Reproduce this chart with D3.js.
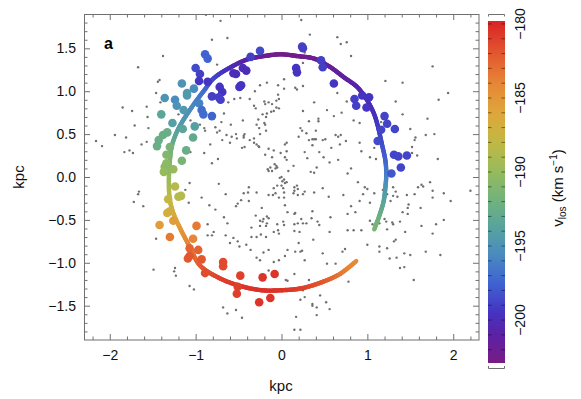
<!DOCTYPE html>
<html>
<head>
<meta charset="utf-8">
<script src="https://cdn.jsdelivr.net/npm/d3@7"></script>
<style>
  body { margin: 0; background: #fff; }
  svg { display: block; font-family: "Liberation Sans", Arial, sans-serif; }
  .tick text { font-size: 14px; fill: #111; }
</style>
</head>
<body>
<div id="chart"></div>
<script>
// field stars (grey), kpc
var fieldStars = [
  [-0.81,1.60],[-1.38,1.41],[-1.67,1.28],[-1.42,1.13],[-1.44,1.11],[-1.46,0.98],[-1.41,0.87],[-1.57,0.82],[-1.85,0.81],[-1.74,0.77],[-1.56,0.70],[-1.20,0.73],[-1.06,0.66],
  [-1.71,0.60],[-1.55,0.57],[-2.16,0.42],[-2.09,0.36],[-1.94,0.49],[-1.81,0.46],[-1.63,0.38],[-1.57,0.41],[-1.77,0.31],[-1.83,0.29],[-1.73,0.28],[-1.07,-0.07],[-1.12,-0.15],[-1.66,-0.17],[-1.67,-0.20],[-1.72,-0.29],[-1.61,-0.34],[-1.08,-0.30],[-0.93,-0.24],[-0.84,-0.33],[-0.90,0.57],[-0.89,0.54],[-1.06,0.29],[-0.90,0.28],[-0.81,0.16],[-0.83,0.38],[-0.95,0.61],[-0.79,-0.64],[-0.86,-0.55],
  [-1.46,-0.72],[-1.49,-1.08],[-1.24,-1.06],[-1.25,-1.10],[-1.23,-1.15],[-1.07,-1.27],[-1.02,-1.31],[-0.86,-0.68],[-0.81,-0.68],
  [-0.71,1.82],[0.23,1.83],[-0.63,1.62],[0.33,1.66],[0.65,1.63],[0.69,1.55],[-0.75,1.31],[0.25,1.33],[0.27,1.45],[0.03,1.14],[-0.17,1.10],[-0.25,1.07],[-0.04,1.07],[0.03,1.03],[0.16,1.04],[0.18,1.02],[0.25,1.06],[-0.31,1.00],[-0.04,0.96],[0.65,0.98],[-0.37,0.91],[-0.03,0.91],[-0.06,0.89],[-0.48,0.92],[-0.55,0.91],[-0.62,0.87],[-0.20,0.88],[-0.15,0.87],[-0.19,0.85],[-0.11,0.85],[-0.32,0.83],[-0.30,0.80],[-0.06,0.81],[-0.03,0.80],[-0.09,0.77],[-0.12,0.76],[-0.22,0.73],[-0.17,0.74],[-0.18,0.70],[-0.27,0.67],[-0.67,0.74],[0.38,0.87],[0.25,0.77],[0.53,0.78],[0.70,0.75],[0.43,0.68],[0.43,0.65],[0.61,0.71],[-0.45,0.66],[-0.20,0.63],[-0.70,0.64],[0.32,0.65],
  [0.76,1.57],[0.81,1.41],[1.76,1.29],[1.21,1.12],[1.41,1.10],[1.94,0.98],[1.83,0.90],[1.33,0.88],[0.76,0.88],[1.41,0.73],[1.70,0.68],[0.84,0.66],[0.91,0.63],[1.16,0.64],
  [-0.77,0.58],[-0.72,0.54],[-0.75,0.52],[-0.59,0.61],[-0.64,0.49],[-0.58,0.47],[-0.53,0.50],[-0.52,0.45],[-0.69,0.43],[-0.60,0.40],[-0.44,0.48],[-0.43,0.50],[-0.44,0.46],[-0.37,0.43],[-0.32,0.45],[-0.32,0.40],[-0.29,0.61],[-0.26,0.57],[-0.19,0.61],[-0.18,0.54],[-0.25,0.50],[-0.46,0.34],[-0.43,0.35],[-0.29,0.38],[-0.26,0.35],[-0.27,0.36],[-0.15,0.33],[-0.09,0.31],[-0.19,0.26],[-0.11,0.23],[-0.01,0.28],[0.04,0.38],[0.06,0.40],[0.06,0.30],[0.04,0.23],[0.06,0.20],[-0.74,0.21],[-0.08,0.15],[-0.06,0.13],[-0.07,0.10],[-0.05,0.11],[-0.13,0.11],[-0.16,0.09],[-0.15,0.07],[-0.11,0.07],[0.14,0.13],[0.08,0.07],[0.22,0.57],[0.24,0.54],[0.20,0.47],[0.29,0.51],[0.40,0.54],[0.40,0.44],[0.32,0.43],[0.36,0.44],[0.38,0.44],[0.36,0.37],[0.48,0.43],[0.51,0.44],[0.44,0.29],[0.27,0.29],[0.30,0.22],[0.49,0.23],[0.58,0.34],[0.68,0.38],[0.63,0.49],[0.66,0.47],[0.69,0.49],[0.56,0.17],[0.66,0.20],[0.41,0.11],[0.34,0.06],[0.38,0.05],
  [-0.73,-0.08],[-0.65,-0.20],[-0.44,-0.19],[-0.39,-0.18],[-0.38,-0.12],[-0.29,-0.18],[-0.47,-0.27],[-0.38,-0.28],[-0.51,-0.31],[-0.53,-0.34],[-0.15,-0.21],[-0.10,-0.21],[-0.07,-0.19],[-0.09,-0.13],[-0.05,-0.10],[0.00,-0.10],[0.02,-0.13],[-0.02,-0.01],[0.00,0.00],[0.01,-0.05],[0.04,-0.07],[0.06,-0.06],[0.03,-0.03],[0.03,-0.18],[-0.03,-0.24],[0.03,-0.24],[0.15,-0.12],[0.18,-0.10],[0.19,-0.14],[0.15,-0.16],[0.14,-0.19],[0.19,-0.21],[0.25,-0.20],[0.27,-0.17],[0.38,-0.18],[0.48,-0.13],[0.55,-0.23],[0.72,-0.21],[0.04,-0.33],[-0.23,-0.36],[0.07,-0.41],[0.15,-0.43],[0.16,-0.42],[-0.30,-0.45],[-0.25,-0.51],[-0.22,-0.52],[-0.17,-0.46],[-0.15,-0.48],[-0.21,-0.49],[-0.17,-0.54],[-0.18,-0.57],[-0.25,-0.57],[-0.35,-0.59],[-0.05,-0.55],[0.02,-0.52],[0.03,-0.56],[-0.09,-0.64],[-0.04,-0.62],[-0.67,-0.47],[-0.63,-0.54],[-0.77,-0.38],[0.23,-0.49],[0.25,-0.54],[0.19,-0.54],[0.15,-0.55],[0.15,-0.63],[0.21,-0.64],[0.29,-0.54],[0.35,-0.48],[0.36,-0.40],[0.42,-0.52],[0.44,-0.56],[0.57,-0.47],[0.56,-0.64],
  [0.75,0.42],[0.91,0.40],[0.93,0.30],[1.03,0.23],[1.10,0.21],[1.08,0.34],[1.50,0.56],[1.56,0.46],[1.55,0.43],[1.68,0.49],[1.78,0.50],[1.52,0.35],[1.52,0.28],[1.58,0.25],[1.82,0.21],[0.81,0.10],[0.77,0.04],[0.89,-0.06],[0.97,-0.12],[1.00,-0.14],[0.95,-0.20],[1.08,-0.19],[1.18,-0.15],[1.23,-0.20],[0.91,-0.28],[1.03,-0.30],[0.81,-0.34],[0.86,-0.41],[0.77,-0.43],[1.30,-0.12],[1.33,-0.17],[1.35,-0.23],[1.30,-0.22],[1.27,-0.28],[1.46,-0.21],[1.55,-0.20],[1.59,-0.12],[1.65,-0.11],[1.63,-0.09],[1.73,-0.06],[1.76,-0.16],[1.89,-0.19],[1.76,-0.24],[2.20,-0.16],[1.97,-0.28],[1.48,-0.32],[1.47,-0.36],[1.62,-0.36],[1.41,-0.41],[1.47,-0.43],[1.20,-0.49],[1.22,-0.52],[1.14,-0.54],[1.06,-0.55],[1.03,-0.51],[1.29,-0.53],[1.30,-0.55],[1.38,-0.52],[1.63,-0.57],[1.80,-0.55],[1.89,-0.50],[1.23,-0.61],[1.44,-0.64],[1.76,-0.66],[0.77,-0.62],[0.84,-0.62],[0.93,-0.62],
  [-0.65,-0.68],[-0.56,-0.71],[-0.60,-0.77],[-0.51,-0.75],[-0.49,-0.81],[-0.41,-0.79],[-0.35,-0.70],[-0.29,-0.70],[-0.24,-0.67],[-0.18,-0.70],[-0.03,-0.66],[-0.36,-0.85],[-0.29,-0.94],[-0.25,-0.97],[-0.21,-0.88],[-0.15,-0.85],[-0.09,-0.99],[-0.03,-0.97],[0.04,-0.92],[0.07,-0.85],[0.16,-0.87],[-0.15,-1.09],[0.05,-1.20],[0.15,-1.13],[-0.68,-1.52],[-0.63,-1.59],[-0.53,-1.55],[-0.46,-1.64],[0.17,-1.63],[0.15,-1.78],
  [0.37,-0.73],[0.20,-0.77],[0.22,-0.87],[0.24,-0.86],[0.27,-0.97],[0.48,-0.89],[0.71,-0.87],[0.74,-0.84],[0.53,-1.01],[0.63,-1.01],[0.69,-1.14],[0.78,-1.22],[0.07,-1.21],[0.32,-1.20],[0.25,-1.32],[0.27,-1.40],[0.22,-1.43],[0.45,-1.38],[0.36,-1.48],[0.36,-1.50],[0.41,-1.52],[0.52,-1.46],[0.56,-1.54],[0.41,-1.61],[0.22,-1.78],[1.00,-0.79],[1.14,-0.81],[1.14,-0.87],[1.23,-0.83],[1.26,-0.95],[1.34,-0.94],[1.38,-1.06],[1.43,-1.05],[1.43,-0.89],[1.50,-0.91],[1.31,-0.75],[1.33,-0.73],[1.68,-0.87],[1.85,-0.91],[1.54,-1.20],
  [-0.88,1.89]
];

// member stars: x, y (kpc) and v_los (km/s)
var memberX = [-0.89,-0.86,-1.00,-0.95,-0.96,-0.86,-1.16,-1.02,-1.10,-1.10,-1.36,-1.24,-1.22,-0.96,-1.40,-1.14,-0.93,-0.91,-0.81,-0.81,-1.27,
  -0.72,-0.69,-0.73,-0.71,-0.56,-0.53,-0.45,-0.41,-0.49,-0.47,-0.36,-0.25,
  -1.38,-1.33,-1.43,-1.45,-1.15,-1.01,-1.03,-1.34,-1.30,-1.11,-1.16,-1.36,-1.34,-1.37,-1.26,
  -1.24,-1.32,-1.20,-1.17,-1.30,-1.33,-1.42,-1.26,-0.99,-1.30,-1.03,-1.07,-1.07,-1.09,-0.97,-0.93,-0.89,-0.68,-0.68,-0.48,-0.51,-0.52,-0.22,-0.08,-0.26,-0.13,
  0.24,0.25,0.17,0.18,0.46,0.48,0.61,0.85,0.87,0.94,1.02,0.99,1.20,1.23,1.32,1.16,1.12,1.31,1.36,1.46,1.39,1.28];
var memberY = [1.43,1.38,1.27,1.20,1.12,1.11,1.09,1.03,0.98,0.95,0.92,0.90,0.83,0.86,0.73,0.78,0.78,0.73,0.94,0.71,0.63,
  1.05,0.99,0.93,0.90,1.21,1.20,1.27,1.24,1.05,1.07,1.40,1.47,
  0.49,0.52,0.43,0.36,0.56,0.59,0.46,0.26,0.35,0.31,0.19,0.12,0.16,0.06,0.09,
  -0.11,-0.26,-0.23,-0.22,-0.40,-0.42,-0.56,-0.51,-0.57,-0.70,-0.72,-0.83,-0.92,-0.95,-0.85,-0.96,-1.12,-0.99,-1.04,-1.15,-1.28,-1.36,-1.17,-1.13,-1.46,-1.41,
  1.52,1.50,1.27,1.22,1.36,1.28,1.09,0.91,0.83,0.95,0.93,0.81,0.71,0.62,0.56,0.55,0.42,0.26,0.24,0.25,0.11,0.04];
var memberV = [-197.5,-197.5,-198.5,-199,-199.5,-199.5,-195,-195.5,-194.5,-194.5,-195,-195.5,-195,-196,-193.5,-194.5,-197,-197,-199,-197.5,-194,
  -199.5,-199.5,-199,-199,-200,-200,-200,-200,-199.5,-199.5,-199,-198.5,
  -192.5,-192.5,-192.5,-192.5,-193.5,-194,-193,-191,-191.5,-192.5,-191.5,-190.5,-190.5,-190,-190,
  -188.5,-188,-188.5,-188.5,-187,-187,-185.5,-185.5,-183.5,-183.5,-184,-182.5,-182,-182,-182.5,-182,-181.5,-181.5,-181.5,-181,-181,-181,-180.5,-180.5,-180.5,-180.5,
  -199,-199,-199.5,-199.5,-199,-199,-199.5,-199,-199,-199.5,-199.5,-199.5,-198.8,-198.8,-198.8,-198.8,-198.5,-198.8,-198.8,-198.8,-198.8,-198];

// model orbit track
var arcX = [0.87,0.68,0.46,0.22,0.00,-0.23,-0.48,-0.72,-0.95,-1.07,-1.18,-1.26,-1.30,-1.31,-1.31,-1.30,-1.28,-1.23,-1.17,-1.02,-0.90,-0.79,-0.59,-0.40,-0.20,-0.01,0.18,0.38,0.57,0.73,0.88,1.00,1.08,1.12,1.17,1.21,1.22,1.21,1.19,1.14,1.08];
var arcY = [-0.98,-1.13,-1.23,-1.30,-1.32,-1.32,-1.27,-1.18,-1.03,-0.81,-0.60,-0.42,-0.27,-0.16,0.03,0.19,0.35,0.50,0.62,0.85,1.01,1.15,1.28,1.37,1.41,1.43,1.41,1.38,1.28,1.16,1.05,0.89,0.73,0.60,0.38,0.19,0.03,-0.12,-0.28,-0.45,-0.61];
var arcV = [-184.5,-183.5,-182,-181,-180.5,-180.3,-180.5,-181,-182,-183.5,-185,-186.5,-187.5,-188.5,-190,-191,-192,-193.3,-194.3,-195.7,-197,-198.5,-200,-201,-202,-202.5,-202.5,-202.2,-201.7,-201.2,-200.8,-200.3,-199.8,-199.3,-198.5,-197.5,-196.3,-195,-193.8,-192.5,-191.3];

var xTicks = [-2, -1, 0, 1, 2];
var yTicks = [-1.5, -1.0, -0.5, 0.0, 0.5, 1.0, 1.5];
var cbTicks = [-180, -185, -190, -195, -200];

// rainbow colour stops (value -> colour)
var rainbowV = [-202.9, -201, -199.5, -197.5, -195.5, -194, -192, -190, -188, -186, -184, -182, -179.8];
var rainbowC = ["#781c84", "#5c21a4", "#4533c2", "#3f63d0", "#4a8cbf", "#55a0a2", "#6fb27e", "#95bb5c", "#c1b845", "#dea63b", "#e68636", "#e2572f", "#d92426"];

var W = 581, H = 399;
var svg = d3.select("#chart").append("svg").attr("width", W).attr("height", H);

var x = d3.scaleLinear().domain([-2.3, 2.3]).range([84, 479]);
var y = d3.scaleLinear().domain([-1.9, 1.9]).range([340, 14]);
var color = d3.scaleLinear().domain(rainbowV).range(rainbowC).interpolate(d3.interpolateRgb);
var frameColor = "#707070";

/* plot clip */
svg.append("clipPath").attr("id", "clip").append("rect")
  .attr("x", 84).attr("y", 14).attr("width", 395).attr("height", 326);
var plot = svg.append("g").attr("clip-path", "url(#clip)");

// grey field stars
plot.selectAll(".field")
  .data(fieldStars)
  .enter()
  .append("circle")
  .attr("class", "field")
  .attr("cx", function(d) { return x(d[0]); })
  .attr("cy", function(d) { return y(d[1]); })
  .attr("r", 1.2)
  .attr("fill", "#6f6f6f");

// orbit track, coloured along its length
var arcPts = arcX.map(function(d, i) { return [x(d), y(arcY[i])]; });
var cum = [0];
for (var i = 1; i < arcPts.length; i++) {
  cum.push(cum[i - 1] + Math.hypot(arcPts[i][0] - arcPts[i - 1][0], arcPts[i][1] - arcPts[i - 1][1]));
}
var vAt = d3.scaleLinear().domain(cum.map(function(c) { return c / cum[cum.length - 1]; })).range(arcV);
var line = d3.line().curve(d3.curveCatmullRom.alpha(0.5));
var guide = plot.append("path").attr("d", line(arcPts)).attr("fill", "none").attr("stroke", "none");
var total = guide.node().getTotalLength();
var nSeg = Math.ceil(total / 1.5);
var segs = d3.range(nSeg).map(function(k) {
  var a = guide.node().getPointAtLength(total * k / nSeg);
  var b = guide.node().getPointAtLength(total * (k + 1) / nSeg);
  return {a: a, b: b, v: vAt((k + 0.5) / nSeg)};
});
plot.selectAll(".seg")
  .data(segs)
  .enter()
  .append("line")
  .attr("class", "seg")
  .attr("x1", function(d) { return d.a.x; })
  .attr("y1", function(d) { return d.a.y; })
  .attr("x2", function(d) { return d.b.x; })
  .attr("y2", function(d) { return d.b.y; })
  .attr("stroke", function(d) { return color(d.v); })
  .attr("stroke-width", 4.4)
  .attr("stroke-linecap", "round");

// member stars
plot.selectAll(".member")
  .data(memberV)
  .enter()
  .append("circle")
  .attr("class", "member")
  .attr("cx", function(d, i) { return x(memberX[i]); })
  .attr("cy", function(d, i) { return y(memberY[i]); })
  .attr("r", 4.3)
  .attr("fill", function(d) { return color(d); });

/* frame and axes */
svg.append("rect")
  .attr("x", 84.5).attr("y", 14.5).attr("width", 394.5).attr("height", 325.5)
  .attr("fill", "none").attr("stroke", frameColor).attr("stroke-width", 1);

var xMinor = d3.range(-22, 23, 2).map(function(d) { return d / 10; }).filter(function(d) { return Math.abs(d - Math.round(d)) > 1e-6; });
var yMinor = d3.range(-18, 19, 1).map(function(d) { return d / 10; }).filter(function(d) { return Math.abs(d * 2 - Math.round(d * 2)) > 1e-6; });

function styleAxis(g) {
  g.select(".domain").remove();
  g.selectAll(".tick line").attr("stroke", frameColor);
  g.selectAll(".tick text").attr("font-size", 14);
}
var fmtX = function(d) { return d < 0 ? "\u2212" + Math.abs(d) : "" + d; };
var fmtY = function(d) { return d < 0 ? "\u2212" + Math.abs(d).toFixed(1) : d.toFixed(1); };

svg.append("g").attr("transform", "translate(0,340)")
  .call(d3.axisBottom(x).tickValues(xTicks).tickSize(-6).tickPadding(10).tickFormat(fmtX)).call(styleAxis);
svg.append("g").attr("transform", "translate(0,340)")
  .call(d3.axisBottom(x).tickValues(xMinor).tickSize(-3.5).tickFormat("")).call(styleAxis);
svg.append("g").attr("transform", "translate(0,14)")
  .call(d3.axisTop(x).tickValues(xTicks).tickSize(-6).tickFormat("")).call(styleAxis);
svg.append("g").attr("transform", "translate(0,14)")
  .call(d3.axisTop(x).tickValues(xMinor).tickSize(-3.5).tickFormat("")).call(styleAxis);

svg.append("g").attr("transform", "translate(84,0)")
  .call(d3.axisLeft(y).tickValues(yTicks).tickSize(-6).tickPadding(8).tickFormat(fmtY)).call(styleAxis);
svg.append("g").attr("transform", "translate(84,0)")
  .call(d3.axisLeft(y).tickValues(yMinor).tickSize(-3.5).tickFormat("")).call(styleAxis);
svg.append("g").attr("transform", "translate(479,0)")
  .call(d3.axisRight(y).tickValues(yTicks).tickSize(-6).tickFormat("")).call(styleAxis);
svg.append("g").attr("transform", "translate(479,0)")
  .call(d3.axisRight(y).tickValues(yMinor).tickSize(-3.5).tickFormat("")).call(styleAxis);

svg.append("text").attr("x", 281).attr("y", 391).attr("text-anchor", "middle")
  .attr("font-size", 15).attr("fill", "#111").text("kpc");
svg.append("text").attr("transform", "translate(24,177) rotate(-90)").attr("text-anchor", "middle")
  .attr("font-size", 15).attr("fill", "#111").text("kpc");
svg.append("text").attr("x", 104).attr("y", 49).attr("font-size", 16).attr("font-weight", "bold")
  .attr("fill", "#000").text("a");

/* colour bar */
var cb = d3.scaleLinear().domain([-202.9, -179.8]).range([363, 21]);
var grad = svg.append("defs").append("linearGradient").attr("id", "rainbow")
  .attr("x1", 0).attr("y1", 1).attr("x2", 0).attr("y2", 0);
grad.selectAll("stop")
  .data(rainbowV)
  .enter()
  .append("stop")
  .attr("offset", function(d) { return (d - rainbowV[0]) / (rainbowV[rainbowV.length - 1] - rainbowV[0]); })
  .attr("stop-color", function(d, i) { return rainbowC[i]; });
svg.append("rect").attr("x", 488).attr("y", 21).attr("width", 17).attr("height", 342)
  .attr("fill", "url(#rainbow)");

var cbMinor = d3.range(-202, -179, 1);
svg.selectAll(".cbl")
  .data(cbMinor)
  .enter()
  .append("line")
  .attr("class", "cbl")
  .attr("x1", 488).attr("x2", 491.5)
  .attr("y1", function(d) { return cb(d); }).attr("y2", function(d) { return cb(d); })
  .attr("stroke", "rgba(0,0,0,0.45)");
svg.selectAll(".cbr")
  .data(cbMinor)
  .enter()
  .append("line")
  .attr("class", "cbr")
  .attr("x1", 501.5).attr("x2", 505)
  .attr("y1", function(d) { return cb(d); }).attr("y2", function(d) { return cb(d); })
  .attr("stroke", "rgba(0,0,0,0.45)");

svg.append("path").attr("d", "M488.5,16.5V14.5H504.5V16.5")
  .attr("fill", "none").attr("stroke", frameColor);
svg.append("path").attr("d", "M488.5,366V368.5H504.5V366")
  .attr("fill", "none").attr("stroke", frameColor);

svg.selectAll(".cblab")
  .data(cbTicks)
  .enter()
  .append("text")
  .attr("class", "cblab")
  .attr("transform", function(d) { return "translate(524.5," + cb(d) + ") rotate(-90)"; })
  .attr("text-anchor", "middle")
  .attr("font-size", 14)
  .attr("fill", "#111")
  .text(function(d) { return "\u2212" + Math.abs(d); });

var title = svg.append("text").attr("transform", "translate(563,188) rotate(-90)")
  .attr("text-anchor", "middle").attr("font-size", 15).attr("fill", "#111");
title.append("tspan").text("v");
title.append("tspan").attr("font-size", 10).attr("dy", 3).text("los");
title.append("tspan").attr("dy", -3).text(" (km s");
title.append("tspan").attr("font-size", 10).attr("dy", -6).text("\u22121");
title.append("tspan").attr("dy", 6).text(")");
</script>
</body>
</html>
